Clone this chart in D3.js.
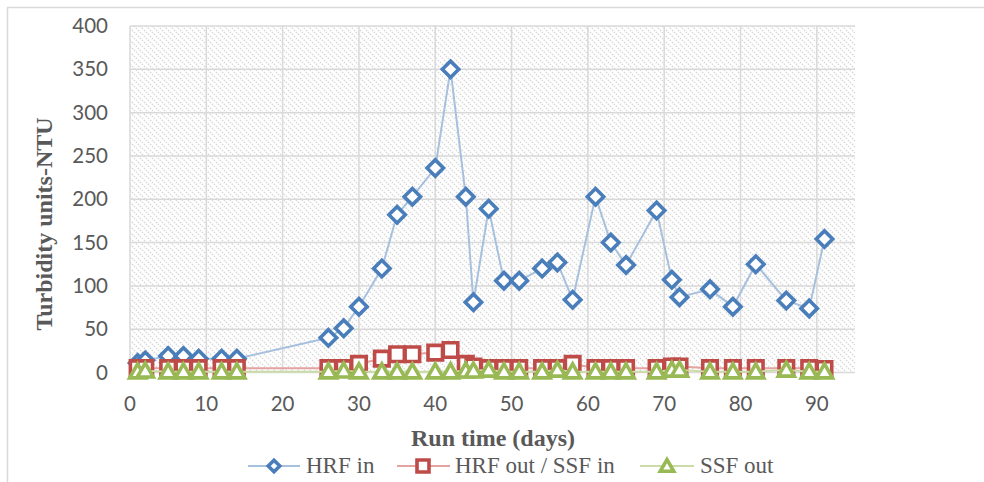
<!DOCTYPE html>
<html><head><meta charset="utf-8">
<script src="https://cdn.jsdelivr.net/npm/d3@7/dist/d3.min.js"></script>
<style>
html,body{margin:0;padding:0;background:#fff;}
svg{display:block;}
</style></head>
<body>
<svg id="chart" width="984" height="482"></svg>
<script>
// ---- data ----
const days = [1,2,5,7,9,12,14,26,28,30,33,35,37,40,42,44,45,47,49,51,54,56,58,61,63,65,69,71,72,76,79,82,86,89,91];
const hrfIn = [11,14,19,19,16,16,16,40,51,76,120,182,203,236,350,203,81,189,106,106,120,127,84,203,150,124,187,107,87,96,76,125,83,74,154];
const hrfOut = [5,5,5,5,5,5,5,5,5,10,16,21,21,23,26,10,7,5,5,5,5,5,10,5,5,5,5,7,7,5,5,5,5,5,4];
const ssfOut = [1,2,1,1,1,1,1,1,2,1,1,1,1,1,1,2,2,3,1,1,1,3,1,1,1,1,1,3,3,1,1,1,3,1,1];
const seriesNames = ["HRF in", "HRF out / SSF in", "SSF out"];
const xTicks = [0,10,20,30,40,50,60,70,80,90];
const yTicks = [0,50,100,150,200,250,300,350,400];
const xTitle = "Run time (days)";
const yTitle = "Turbidity units-NTU";

const svg = d3.select("#chart");
const L = 130, R = 855, T = 26, B = 372.5;
const x = d3.scaleLinear().domain([0,95]).range([L,R]);
const y = d3.scaleLinear().domain([0,400]).range([B,T]);

// outer frame
svg.append("rect").attr("x",7.5).attr("y",7.5).attr("width",1000).attr("height",500)
  .attr("fill","#fff").attr("stroke","#d9d9d9").attr("stroke-width",1.5);

// hatch pattern
const defs = svg.append("defs");
const pat = defs.append("pattern").attr("id","hatch").attr("patternUnits","userSpaceOnUse")
  .attr("width",6).attr("height",6);
pat.append("rect").attr("width",6).attr("height",6).attr("fill","#fff");
pat.append("path").attr("d","M0,0L6,6M-1,5L1,7M5,-1L7,1")
  .attr("stroke","#d6d6d6").attr("stroke-width",1.3).attr("stroke-dasharray","1.5,1.2");

svg.append("rect").attr("x",L).attr("y",T).attr("width",R-L).attr("height",B-T).attr("fill","url(#hatch)");

// gridlines
const g = svg.append("g");
g.selectAll(".hg").data(yTicks.filter(v=>v>0)).join("line")
  .attr("x1",L).attr("x2",R).attr("y1",d=>y(d)).attr("y2",d=>y(d))
  .attr("stroke","#d9d9d9").attr("stroke-width",1.5);
g.selectAll(".vg").data(xTicks).join("line")
  .attr("x1",d=>x(d)).attr("x2",d=>x(d)).attr("y1",T).attr("y2",B)
  .attr("stroke","#d9d9d9").attr("stroke-width",1.5);
g.append("line").attr("x1",L).attr("x2",R).attr("y1",B).attr("y2",B)
  .attr("stroke","#d9d9d9").attr("stroke-width",1.5);

// axes tick labels
const tickFont = "Lato, 'Liberation Sans', sans-serif";
svg.append("g").selectAll("text").data(yTicks).join("text")
  .attr("x",108).attr("y",d=>y(d)).attr("dy","0.35em").attr("text-anchor","end")
  .attr("font-family",tickFont).attr("font-size",20.5).attr("fill","#595959").text(d=>d);
svg.append("g").selectAll("text").data(xTicks).join("text")
  .attr("x",d=>x(d)).attr("y",404).attr("dy","0.35em").attr("text-anchor","middle")
  .attr("font-family",tickFont).attr("font-size",20.5).attr("fill","#595959").text(d=>d);

// axis titles
const serif = "'Liberation Serif', 'Times New Roman', serif";
svg.append("text").attr("x",493).attr("y",446).attr("text-anchor","middle")
  .attr("font-family",serif).attr("font-size",24).attr("font-weight","bold").attr("fill","#595959").text(xTitle);
svg.append("text").attr("transform","translate(52,224) rotate(-90)").attr("text-anchor","middle")
  .attr("font-family",serif).attr("font-size",24).attr("font-weight","bold").attr("fill","#595959").text(yTitle);

// marker shapes
function diamond(r){return `M0,${-r}L${r},0L0,${r}L${-r},0Z`;}
function square(s){const h=s/2;return `M${-h},${-h}H${h}V${h}H${-h}Z`;}
function triangle(w){const h=w*0.87;return `M0,${-h*0.55}L${w/2},${h*0.45}L${-w/2},${h*0.45}Z`;}

const series = [
  {name:seriesNames[0], vals:hrfIn, color:"#4a7ebb", line:"#a7c0de", shape:diamond(8.2), leg:diamond(5.8)},
  {name:seriesNames[1], vals:hrfOut, color:"#be4b48", line:"#e3a3a1", shape:square(14.5), leg:square(12)},
  {name:seriesNames[2], vals:ssfOut, color:"#98b954", line:"#cbdca9", shape:triangle(16), leg:triangle(13.5)}
];

const lineGen = d3.line().x(d=>x(d[0])).y(d=>y(d[1]));
series.forEach(s=>{
  const pts = days.map((d,i)=>[d,s.vals[i]]);
  svg.append("path").datum(pts).attr("d",lineGen).attr("fill","none")
    .attr("stroke",s.line).attr("stroke-width",2);
  svg.append("g").selectAll("path").data(pts).join("path")
    .attr("transform",d=>`translate(${x(d[0])},${y(d[1])})`)
    .attr("d",s.shape).attr("fill","#fff").attr("stroke",s.color).attr("stroke-width",3.6)
    .attr("stroke-linejoin","miter");
});

// legend
const legendItems = [
  {lx1:248, lx2:300, mx:274, tx:306},
  {lx1:397, lx2:450, mx:423, tx:455},
  {lx1:640, lx2:694, mx:667, tx:700}
];
const ly = 466;
series.forEach((s,i)=>{
  const it = legendItems[i];
  const lg = svg.append("g");
  lg.append("line").attr("x1",it.lx1).attr("x2",it.lx2).attr("y1",ly).attr("y2",ly)
    .attr("stroke",s.line).attr("stroke-width",2);
  lg.append("path").attr("transform",`translate(${it.mx},${ly})`).attr("d",s.leg)
    .attr("fill","#fff").attr("stroke",s.color).attr("stroke-width",3.6);
  lg.append("text").attr("x",it.tx).attr("y",473).attr("font-family",serif).attr("font-size",23)
    .attr("fill","#595959").text(s.name);
});
</script>
</body></html>
